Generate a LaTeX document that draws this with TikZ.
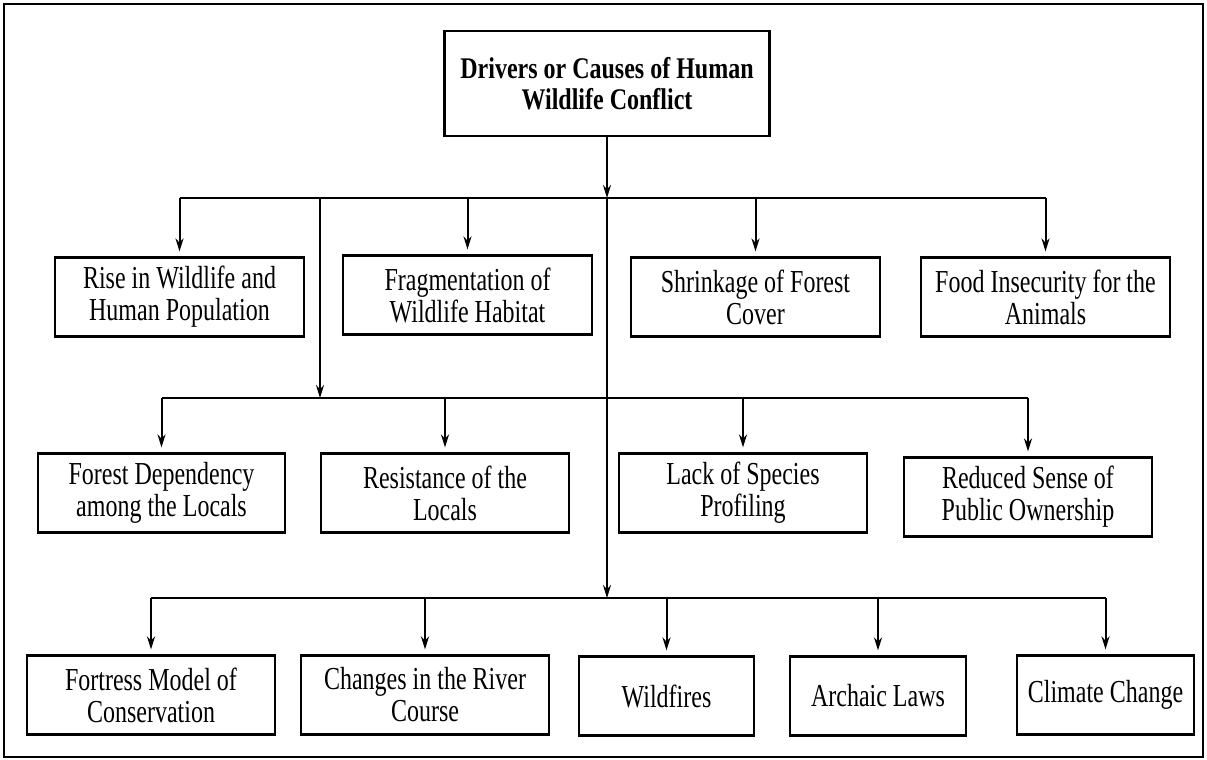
\documentclass[tikz,border=0pt]{standalone}
\usepackage{fontspec}
\setmainfont{Liberation Serif}[FakeStretch=0.75]
\newfontfamily\rootfont{Liberation Serif}[FakeStretch=0.8]
\usepackage{tikz}
\usetikzlibrary{arrows.meta, positioning}

\begin{document}
\begin{tikzpicture}[x=0.5pt, y=-0.5pt]
    % Define styles
    \tikzstyle{cause}=[rectangle, draw, line width=1.1pt, fill=white, align=center, inner sep=2pt,
        minimum height=39.5pt, font=\fontsize{16}{16}\selectfont]
    \tikzstyle{root}=[cause, minimum width=162.5pt, minimum height=52.5pt,
        font=\rootfont\bfseries\fontsize{15}{15.5}\selectfont]
    \tikzstyle{link} = [draw=black, line width=1pt]
    \tikzstyle{arrow} = [link, -{Stealth[length=6.5pt, width=4pt]}, shorten >=2.5pt]

    \useasboundingbox (0,0) rectangle (1207,760);
    \draw[line width=0.9pt] (4,4) rectangle (1203,757);

    % Draw the root
    \node[root] (drivers) at (607,83.5) {Drivers or Causes of Human\\Wildlife Conflict};

    % Draw the causes
    \foreach \name/\x/\y/\w/\txt in {
        rise/179.5/297/124.5/{Rise in Wildlife and\\Human Population},
        frag/467.5/295/124.5/{Fragmentation of\\Wildlife Habitat},
        shrink/755.5/297/124.5/{Shrinkage of Forest\\Cover},
        food/1045.5/297/124.5/{Food Insecurity for the\\Animals},
        forest/161.5/493/123.5/{Forest Dependency\\among the Locals},
        resist/445/493/124/{Resistance of the\\Locals},
        lack/743/493/124/{Lack of Species\\Profiling},
        reduced/1028/497/124/{Reduced Sense of\\Public Ownership},
        fortress/151/695/124/{Fortress Model of\\Conservation},
        changes/425/695/124/{Changes in the River\\Course},
        wildfires/666.5/696/87.5/{Wildfires},
        archaic/878/696/88/{Archaic Laws},
        climate/1105.5/695/88.5/{Climate Change}}
        \node[cause, minimum width=\w pt] (\name) at (\x,\y) {\txt};

    % Draw the branch lines
    \coordinate (bus1) at (607,198);
    \coordinate (bus2) at (320,398);
    \coordinate (bus3) at (607,598);

    \draw[arrow, shorten >=0pt] (drivers.south) -- (drivers |- bus1);
    \draw[link] (rise |- bus1) -- (food |- bus1);
    \draw[link] (forest |- bus2) -- (reduced |- bus2);
    \draw[link] (fortress |- bus3) -- (climate |- bus3);
    \draw[arrow, shorten >=0pt] (bus2 |- bus1) -- (bus2);
    \draw[arrow, shorten >=0pt] (bus3 |- bus1) -- (bus3);

    % Draw the drops
    \foreach \n in {rise,frag,shrink,food}
        \draw[arrow] (\n |- bus1) -- (\n.north);
    \foreach \n in {forest,resist,lack,reduced}
        \draw[arrow] (\n |- bus2) -- (\n.north);
    \foreach \n in {fortress,changes,wildfires,archaic,climate}
        \draw[arrow] (\n |- bus3) -- (\n.north);

\end{tikzpicture}
\end{document}
